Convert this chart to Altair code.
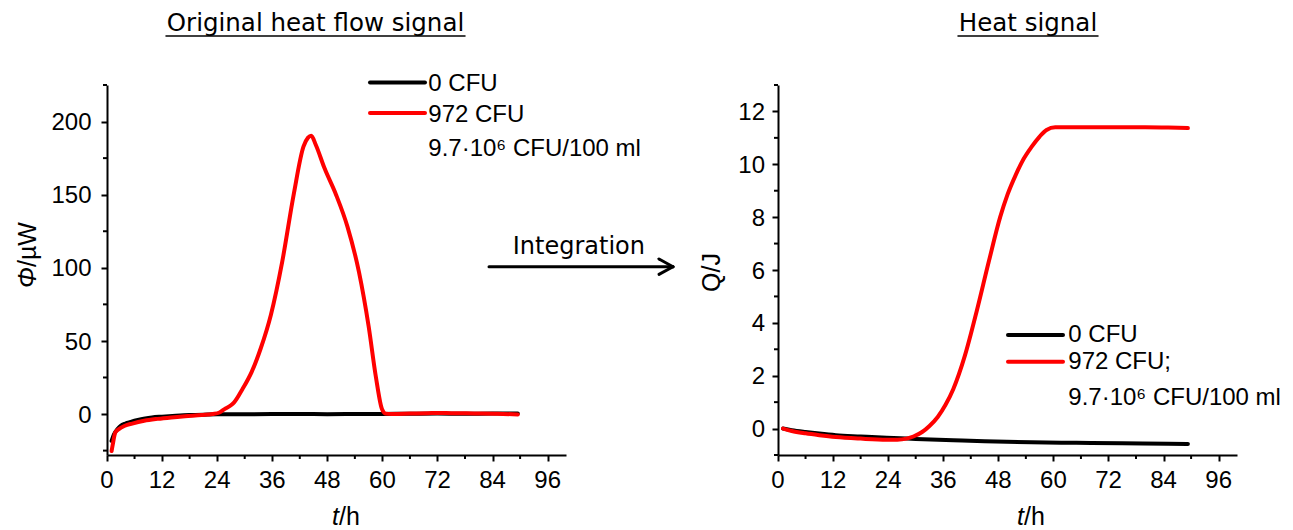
import altair as alt
import pandas as pd

# ---------------- data ----------------
series_names = ["0 CFU", "972 CFU"]
series_colors = ["#000000", "#ff0000"]

# left panel: heat flow (t in h, Phi in uW)
left_black_t = [1.0, 1.5, 2.3, 3.0, 4.0, 4.8, 6, 8, 9.8, 12, 15, 18, 21, 24, 30, 36, 42, 48, 54, 60, 66, 72, 78, 84, 89.5]
left_black_v = [-18.4, -14, -10.3, -8, -6.5, -5.7, -4.5, -3.2, -2.3, -1.8, -1.2, -0.7, -0.4, -0.2, -0.1, 0, 0, -0.1, 0, 0.1, 0.2, 0.3, 0.2, 0.3, 0.3]
left_red_t = [1.0, 1.3, 1.8, 2.5, 3.9, 5.5, 8.1, 11, 14, 17, 20.6, 23, 24.5, 25.6, 27, 27.7, 29.5, 31.5, 33.5, 35.7, 38.2,
              40.7, 42.8, 43.8, 44.5, 45.5, 47.4, 49.9, 52.4, 54.9, 57, 58.6, 59.9, 60.7, 62, 66, 70, 72, 75, 80, 85, 89.5]
left_red_v = [-25.3, -20, -12.6, -10.5, -8, -6.5, -4.6, -3.3, -2.3, -1.5, -0.7, 0, 1.1, 3.4, 6, 8, 17, 28.7, 45, 67.8, 104.6,
              150.6, 182.8, 189, 190.3, 184, 168, 150, 128, 97, 60, 25, 3.4, 0.3, 0, 0.3, 0.6, 0.8, 0.6, 0.4, 0.2, -0.3]

# right panel: heat (t in h, Q in J)
right_black_t = [1.1, 3, 6, 9, 12.6, 18, 23.7, 30, 38.2, 45, 55.2, 65, 75, 85, 89.3]
right_black_q = [0, -0.06, -0.13, -0.19, -0.25, -0.3, -0.35, -0.39, -0.44, -0.48, -0.52, -0.54, -0.56, -0.57, -0.58]
right_red_t = [1.1, 3, 6, 9, 12.6, 18, 23.7, 26, 28, 29.5, 31.4, 33, 34.8, 36.5, 38.2, 40.7, 43.3, 45.9, 48.4, 50,
               51.8, 53.5, 55.2, 57, 58.5, 60.4, 65, 70, 75, 80, 85, 89.3]
right_red_q = [0, -0.09, -0.18, -0.25, -0.32, -0.38, -0.42, -0.42, -0.38, -0.3, -0.13, 0.1, 0.44, 0.9, 1.5, 2.75, 4.45,
               6.3, 8.0, 8.85, 9.6, 10.2, 10.65, 11.05, 11.3, 11.4, 11.4, 11.4, 11.4, 11.4, 11.39, 11.37]

x_major = [0, 12, 24, 36, 48, 60, 72, 84, 96]
x_minor = [6, 18, 30, 42, 54, 66, 78, 90]
left_y_major = [0, 50, 100, 150, 200]
left_y_minor = [-25, 25, 75, 125, 175, 225]
right_y_major = [0, 2, 4, 6, 8, 10, 12]
right_y_minor = [-1, 1, 3, 5, 7, 9, 11, 13]

left_title = "Original heat flow signal"
right_title = "Heat signal"
arrow_label = "Integration"
left_legend = ["0 CFU", "972 CFU", "9.7·10⁶ CFU/100 ml"]
right_legend = ["0 CFU", "972 CFU;", "9.7·10⁶ CFU/100 ml"]
left_ytitle = ["Φ", "/µW"]
right_ytitle = "Q/J"
xtitle = ["t", "/h"]

# ---------------- layout ----------------
W, H = 459, 370
SANS = "Liberation Sans"
DEJAVU = "DejaVu Sans"
LABEL_SIZE = 24


def make_df(tb, vb, tr, vr):
    rows = [{"t": t, "v": v, "s": series_names[0]} for t, v in zip(tb, vb)]
    rows += [{"t": t, "v": v, "s": series_names[1]} for t, v in zip(tr, vr)]
    return pd.DataFrame(rows)


def txt(s, x, y, size=24, font=SANS, align="left", baseline="alphabetic", angle=0, italic=False):
    return alt.Chart(pd.DataFrame({"s": [s]})).mark_text(
        align=align, baseline=baseline, fontSize=size, font=font, angle=angle,
        fontStyle="italic" if italic else "normal", color="black"
    ).encode(text="s:N", x=alt.value(x), y=alt.value(y))


def seg(x1, y1, x2, y2, w=2, color="black"):
    return alt.Chart(pd.DataFrame({"a": [0]})).mark_rule(
        color=color, strokeWidth=w, strokeCap="round"
    ).encode(x=alt.value(x1), y=alt.value(y1), x2=alt.value(x2), y2=alt.value(y2))


def panel(df, ydom, ymaj, ymin, ylab_x):
    xs = alt.Scale(domain=[0, 100], nice=False, zero=False)
    ys = alt.Scale(domain=ydom, nice=False, zero=False)
    xax = alt.Axis(values=x_major, labels=False)
    yax = alt.Axis(values=ymaj, labels=False)
    lines = alt.Chart(df).mark_line(strokeWidth=4, strokeJoin="round", strokeCap="round",
                                    interpolate="monotone").encode(
        x=alt.X("t:Q", scale=xs, title=None, axis=xax),
        y=alt.Y("v:Q", scale=ys, title=None, axis=yax),
        color=alt.Color("s:N", scale=alt.Scale(domain=series_names, range=series_colors), legend=None),
    )
    xminor = alt.Chart(pd.DataFrame({"t": x_minor})).mark_rule(color="black", strokeWidth=2).encode(
        x=alt.X("t:Q", scale=xs, title=None, axis=xax), y=alt.value(H), y2=alt.value(H + 4))
    yminor = alt.Chart(pd.DataFrame({"v": ymin})).mark_rule(color="black", strokeWidth=2).encode(
        y=alt.Y("v:Q", scale=ys, title=None, axis=yax), x=alt.value(0), x2=alt.value(-4))
    xlabels = alt.Chart(pd.DataFrame({"t": x_major, "lab": [str(v) for v in x_major]})).mark_text(
        font=SANS, fontSize=LABEL_SIZE, align="center", baseline="alphabetic", color="black"
    ).encode(x=alt.X("t:Q", scale=xs, title=None, axis=xax), y=alt.value(H + 32.7), text="lab:N")
    ylabels = alt.Chart(pd.DataFrame({"v": ymaj, "lab": [str(v) for v in ymaj]})).mark_text(
        font=SANS, fontSize=LABEL_SIZE, align="right", baseline="alphabetic", dy=8.6, color="black"
    ).encode(y=alt.Y("v:Q", scale=ys, title=None, axis=yax), x=alt.value(ylab_x), text="lab:N")
    return [lines, xminor, yminor, xlabels, ylabels]


left_df = make_df(left_black_t, left_black_v, left_red_t, left_red_v)
right_df = make_df(right_black_t, right_black_q, right_red_t, right_red_q)

# left panel origin (107, 85)
left_layers = panel(left_df, [-28, 225], left_y_major, left_y_minor, -15.5) + [
    seg(-107, -85, -107, -85, w=0, color="white"),           # anchor for page origin
    txt(left_title, 208.5, -54, size=24.5, font=DEJAVU, align="center"),
    seg(59, -49, 358, -49, w=1.5),
    txt(arrow_label, 405.7, 169, size=24, font=DEJAVU),
    seg(382, 181.7, 566, 181.7, w=3),
    seg(552, 174, 566, 181.7, w=3),
    seg(552, 189.4, 566, 181.7, w=3),
    seg(263, -2.5, 318, -2.5, w=4, color=series_colors[0]),
    seg(263, 28, 318, 28, w=4, color=series_colors[1]),
    txt(left_legend[0], 321.3, 6),
    txt(left_legend[1], 321.3, 36.5),
    txt(left_legend[2], 321.3, 71),
    txt(left_ytitle[0], -79, 182, size=25, angle=270, align="right", baseline="middle", italic=True),
    txt(left_ytitle[1], -79, 182, size=25, angle=270, align="left", baseline="middle"),
    txt(xtitle[0], 232, 445, size=25, align="right", baseline="bottom", italic=True),
    txt(xtitle[1], 232, 445, size=25, align="left", baseline="bottom"),
]
left = alt.layer(*left_layers).properties(width=W, height=H)

# right panel origin (778, 85)
right_layers = panel(right_df, [-1, 13], right_y_major, right_y_minor, -13) + [
    txt(right_title, 250, -54, size=24.5, font=DEJAVU, align="center"),
    seg(180, -49, 320, -49, w=1.5),
    seg(230, 250, 285, 250, w=4, color=series_colors[0]),
    seg(230, 276.7, 285, 276.7, w=4, color=series_colors[1]),
    txt(right_legend[0], 290.3, 256.7),
    txt(right_legend[1], 290.3, 284),
    txt(right_legend[2], 290.3, 320),
    txt(right_ytitle, -66, 187.5, size=25, angle=270, align="center", baseline="middle"),
    txt(xtitle[0], 246, 445, size=25, align="right", baseline="bottom", italic=True),
    txt(xtitle[1], 246, 445, size=25, align="left", baseline="bottom"),
]
right = alt.layer(*right_layers).properties(width=W, height=H)

chart = alt.hconcat(left, right, spacing=212, bounds="flush").properties(
    padding=0, background="white"
).configure_view(strokeWidth=0).configure_axis(
    grid=False, domainColor="black", domainWidth=2, tickColor="black", tickWidth=2,
    tickSize=6
)

chart.save("out.html", embed_options={"renderer": "svg", "actions": False})
